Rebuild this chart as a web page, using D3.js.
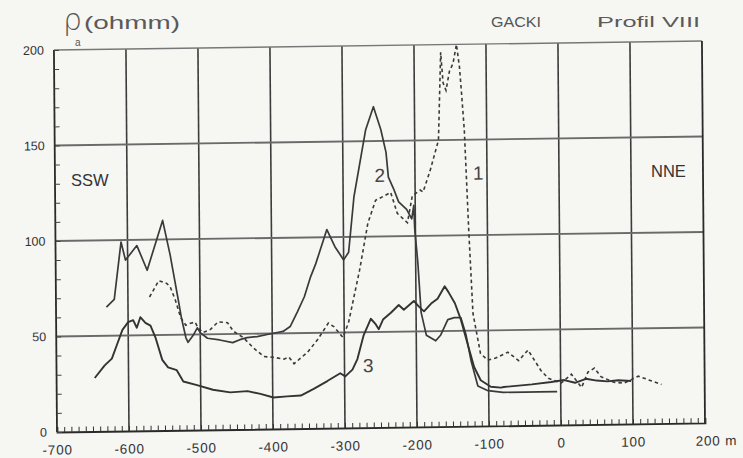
<!DOCTYPE html>
<html>
<head>
<meta charset="utf-8">
<script src="https://cdn.jsdelivr.net/npm/d3@7"></script>
<style>
  html, body { margin: 0; padding: 0; background: #f6f6f3; }
  svg { display: block; font-family: "Liberation Sans", Arial, sans-serif; }
</style>
</head>
<body>
<script>
// ---- data ----
const xTicks = [-700, -600, -500, -400, -300, -200, -100, 0, 100, 200];
const yTicks = [0, 50, 100, 150, 200];

// curve 1 (dashed)
const profile1 = [[-570,70],[-557,78.5],[-546,77],[-541,75],[-534,68],[-527,59],[-520,55],[-513,56],[-507,56.5],[-503,53.5],[-496,51],[-486,52.5],[-475,56.5],[-462,56],[-454,51.5],[-440,48],[-426,42.5],[-412,38],[-398,37.5],[-384,36.5],[-377,37.5],[-370,34],[-351,40],[-337,46.5],[-322,55],[-314,53],[-302,47.5],[-294,55],[-287,67],[-278,82.5],[-266,107],[-255,119],[-244,121],[-234,123],[-225,112],[-211,107],[-204,121],[-193,124],[-189,123],[-179,134],[-167,150],[-163,196],[-160,180],[-156,176],[-151,186],[-146,190],[-141,200],[-137,188],[-134,172],[-131,155],[-126,103],[-121,59],[-111,38],[-101,34.5],[-90,35.5],[-73,38.5],[-58,34],[-45,39.5],[-27,28.5],[-17,24.5],[1,22],[15,26.5],[29,19.5],[38,27.5],[47,29.5],[56,25],[74,22],[88,21.5],[108,25],[122,23],[140,20.5]];

// curve 2 (solid, upper)
const profile2 = [[-630,65],[-619,69],[-609,99],[-603,89.5],[-587,97],[-573,84],[-551,110],[-541,92],[-530,68],[-526,59],[-520,48.5],[-517,46],[-510,49.5],[-504,53.5],[-500,51],[-490,48],[-473,47],[-455,45.5],[-445,47],[-435,48],[-421,48.5],[-407,49.5],[-393,50.5],[-385,51],[-375,53.5],[-365,61],[-355,69],[-346,79.5],[-339,86],[-323,104],[-312,95],[-300,88],[-293,92],[-285,121],[-268,156],[-257,168],[-247,156],[-240,144],[-237,131],[-230,125],[-223,118],[-212,114],[-205,109],[-202,116],[-201,104],[-197,86],[-193,60],[-186,48],[-173,45],[-166,48],[-156,56],[-147,57],[-138,57],[-131,48],[-124,34],[-115,21],[-101,18.5],[-80,17.5],[-50,17.5],[-30,17.5],[-5,17.5]];

// curve 3 (solid, lower)
const profile3 = [[-647,28],[-633,34.5],[-623,38],[-615,46],[-608,53],[-600,57],[-593,58],[-588,54],[-583,59.5],[-576,56.5],[-569,55],[-562,48.5],[-553,37],[-545,33],[-533,31.5],[-524,25.5],[-505,23.5],[-483,21],[-459,19.5],[-435,20],[-417,18.5],[-399,16.5],[-380,17],[-361,17.3],[-343,20.7],[-324,24.7],[-306,28.7],[-299,27],[-289,30.5],[-282,36],[-273,48.5],[-263,57],[-256,54],[-252,51.5],[-246,56.5],[-235,60],[-224,64],[-217,61.5],[-203,66],[-196,63],[-189,60.5],[-179,64.5],[-170,67],[-160,73.5],[-155,70.5],[-146,64.5],[-138,56],[-128,42],[-120,31],[-111,24],[-97,20.5],[-83,20],[-79,20.3],[-40,21.5],[-13,22.6],[5,23.5],[20,22],[35,24],[50,23],[65,22.5],[80,23],[98,22.5]];

const curveLabels = [{t:"1", x:-112, y:129}, {t:"2", x:-249, y:128.5}, {t:"3", x:-267, y:29}];

// ---- drawing ----
const W = 743, H = 458;
const svg = d3.select("body").append("svg").attr("width", W).attr("height", H);
svg.append("rect").attr("width", W).attr("height", H).attr("fill", "#f6f6f3");

const x = d3.scaleLinear().domain([-700, 200]).range([57, 705]);
const y = d3.scaleLinear().domain([0, 200]).range([432, 50]);

// the scanned sheet is slightly skewed: horizontal lines rise to the right
const g = svg.append("g").attr("transform", "matrix(1,-0.0139,0.008,1,-3.456,0.792)");
const ink = "#333";

// grid
g.append("g").selectAll("line").data(xTicks.slice(1, -1)).join("line")
  .attr("x1", d => x(d)).attr("x2", d => x(d)).attr("y1", y(200)).attr("y2", y(0))
  .attr("stroke", "#3c3c3c").attr("stroke-width", 1.6);
g.append("g").selectAll("line").data([50, 100, 150]).join("line")
  .attr("x1", x(-700)).attr("x2", x(200)).attr("y1", d => y(d)).attr("y2", d => y(d))
  .attr("stroke", "#6a6a6a").attr("stroke-width", 1.8);
g.append("line").attr("x1", x(-700)).attr("x2", x(200)).attr("y1", y(200)).attr("y2", y(200))
  .attr("stroke", "#777").attr("stroke-width", 1.4);
[ -700, 200 ].forEach(v => g.append("line").attr("x1", x(v)).attr("x2", x(v)).attr("y1", y(200)).attr("y2", y(0))
  .attr("stroke", "#2a2a2a").attr("stroke-width", 1.8));

// x axis: minor ticks pointing up
const xMinor = g.append("g").attr("transform", `translate(0,${y(0)})`)
  .call(d3.axisTop(x).tickValues(d3.range(-700, 201, 10)).tickSize(5).tickFormat(""));
xMinor.select(".domain").attr("stroke", "#2a2a2a").attr("stroke-width", 1.8);
xMinor.selectAll(".tick line").attr("stroke", "#333").attr("stroke-width", 1);

const xLab = g.append("g").attr("transform", `translate(0,${y(0)})`)
  .call(d3.axisBottom(x).tickValues(xTicks).tickSize(0).tickPadding(13)
    .tickFormat(d => d === 200 ? "200 m" : String(d)));
xLab.select(".domain").remove();
xLab.selectAll("text").attr("font-size", 13.5).attr("fill", ink).attr("letter-spacing", 0.8)
  .attr("font-family", "'Liberation Sans', Arial, sans-serif");
xLab.selectAll(".tick").filter(d => d === 200).select("text")
  .attr("text-anchor", "start").attr("x", -10);

// y axis: minor ticks pointing in
const yMinor = g.append("g").attr("transform", `translate(${x(-700)},0)`)
  .call(d3.axisRight(y).tickValues(d3.range(0, 201, 10)).tickSize(5).tickFormat(""));
yMinor.select(".domain").remove();
yMinor.selectAll(".tick line").attr("stroke", "#444").attr("stroke-width", 1);

const yLab = g.append("g").attr("transform", `translate(${x(-700)},0)`)
  .call(d3.axisLeft(y).tickValues(yTicks).tickSize(0).tickPadding(10));
yLab.select(".domain").remove();
yLab.selectAll("text").attr("font-size", 12.5).attr("fill", ink)
  .attr("font-family", "'Liberation Sans', Arial, sans-serif");

// curves
const line = d3.line().x(d => x(d[0])).y(d => y(Math.min(d[1], 200)));
g.append("path").datum(profile1).attr("d", line).attr("fill", "none")
  .attr("stroke", "#3a3a3a").attr("stroke-width", 1.6).attr("stroke-dasharray", "3.5,3");
g.append("path").datum(profile2).attr("d", line).attr("fill", "none")
  .attr("stroke", "#3a3a3a").attr("stroke-width", 1.7).attr("stroke-linejoin", "round");
g.append("path").datum(profile3).attr("d", line).attr("fill", "none")
  .attr("stroke", "#333").attr("stroke-width", 1.9).attr("stroke-linejoin", "round");

g.append("g").selectAll("text").data(curveLabels).join("text")
  .attr("x", d => x(d.x)).attr("y", d => y(d.y))
  .attr("font-size", 19).attr("fill", "#444").attr("text-anchor", "middle")
  .text(d => d.t);

// side labels
svg.append("text").attr("x", 71).attr("y", 186).attr("font-size", 16.5).attr("fill", ink).text("SSW");
svg.append("text").attr("x", 651).attr("y", 177).attr("font-size", 16.5).attr("fill", ink).text("NNE");

// titles
const rho = svg.append("text").attr("x", 63).attr("y", 30).attr("fill", "#555");
rho.append("tspan").attr("font-size", 30).attr("font-family", "'DejaVu Sans', sans-serif")
  .attr("font-weight", 200).text("ρ");
rho.append("tspan").attr("font-size", 10).attr("dx", -7).attr("dy", 16).attr("fill", "#555").text("a");
svg.append("text").attr("x", 84).attr("y", 29).attr("font-size", 19).attr("fill", "#5a5a5a")
  .attr("textLength", 96).attr("lengthAdjust", "spacingAndGlyphs").text("(ohmm)");
svg.append("text").attr("x", 491).attr("y", 27).attr("font-size", 14.5).attr("fill", "#555")
  .attr("textLength", 50).attr("lengthAdjust", "spacingAndGlyphs").text("GACKI");
svg.append("text").attr("x", 597).attr("y", 27).attr("font-size", 14.5).attr("fill", "#5a5a5a")
  .attr("textLength", 103).attr("lengthAdjust", "spacingAndGlyphs").text("Profil VIII");
</script>
</body>
</html>
